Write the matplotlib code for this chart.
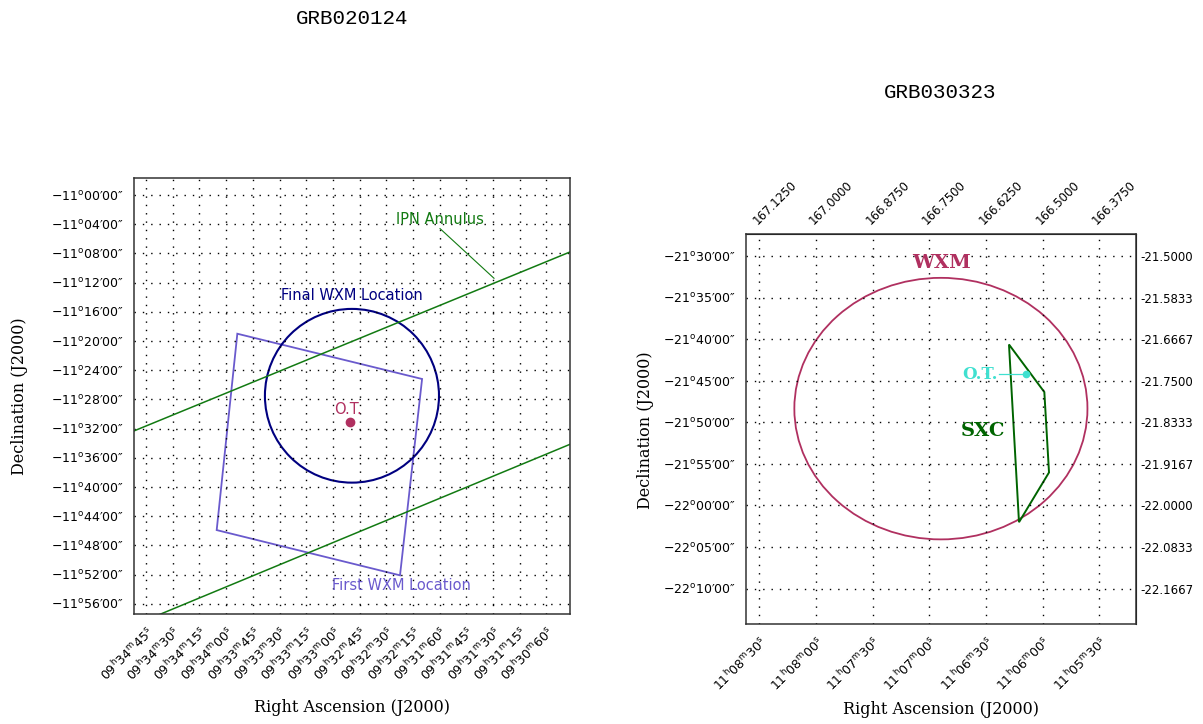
import matplotlib.pyplot as plt
from matplotlib.patches import Ellipse, Polygon

# ---------------- GRB020124 : RA in seconds of time, Dec in arcmin ----------------
ra_ticks_a = [34485, 34470, 34455, 34440, 34425, 34410, 34395, 34380,
              34365, 34350, 34335, 34320, 34305, 34290, 34275, 34260]
ra_labels_a = ["09:34:45", "09:34:30", "09:34:15", "09:34:00", "09:33:45", "09:33:30",
               "09:33:15", "09:33:00", "09:32:45", "09:32:30", "09:32:15", "09:31:60",
               "09:31:45", "09:31:30", "09:31:15", "09:30:60"]
dec_ticks_a = [-660, -664, -668, -672, -676, -680, -684, -688,
               -692, -696, -700, -704, -708, -712, -716]
dec_labels_a = ["-11:00:00", "-11:04:00", "-11:08:00", "-11:12:00", "-11:16:00",
                "-11:20:00", "-11:24:00", "-11:28:00", "-11:32:00", "-11:36:00",
                "-11:40:00", "-11:44:00", "-11:48:00", "-11:52:00", "-11:56:00"]

first_wxm_ra = [34433.7, 34329.9, 34342.3, 34445.3]
first_wxm_dec = [-679.0, -685.2, -712.1, -705.9]
final_wxm_ra, final_wxm_dec = 34369.3, -687.5
final_wxm_r_ra, final_wxm_r_dec = 48.9, 11.9
ot_a_ra, ot_a_dec = 34370.4, -691.1
ipn_upper_ra = [34491.6, 34246.8]
ipn_upper_dec = [-692.3, -667.8]
ipn_lower_ra = [34491.6, 34246.8]
ipn_lower_dec = [-718.9, -694.15]
ipn_leader_ra = [34319.8, 34289.5]
ipn_leader_dec = [-664.6, -671.4]

# ---------------- GRB030323 : RA / Dec in degrees ----------------
ra_ticks_b = [167.125, 167.0, 166.875, 166.75, 166.625, 166.5, 166.375]
ra_top_labels_b = ["167.1250", "167.0000", "166.8750", "166.7500", "166.6250", "166.5000", "166.3750"]
ra_labels_b = ["11:08:30", "11:08:00", "11:07:30", "11:07:00", "11:06:30", "11:06:00", "11:05:30"]
dec_ticks_b = [-21.5, -21.583333, -21.666667, -21.75, -21.833333,
               -21.916667, -22.0, -22.083333, -22.166667]
dec_labels_b = ["-21:30:00", "-21:35:00", "-21:40:00", "-21:45:00", "-21:50:00",
                "-21:55:00", "-22:00:00", "-22:05:00", "-22:10:00"]
dec_right_labels_b = ["-21.5000", "-21.5833", "-21.6667", "-21.7500", "-21.8333",
                      "-21.9167", "-22.0000", "-22.0833", "-22.1667"]

wxm_ra, wxm_dec = 166.7244, -21.8056
wxm_r_ra, wxm_r_dec = 0.3233, 0.2624
sxc_ra = [166.5742, 166.4962, 166.4859, 166.5521]
sxc_dec = [-21.6769, -21.7724, -21.9337, -22.0335]
ot_b_ra, ot_b_dec = 166.5375, -21.7366
ot_b_leader_ra = [166.5972, 166.5375]


def hms(s):
    h, m, sec = s.split(":")
    return h + r"$^{\rm h}$" + m + r"$^{\rm m}$" + sec + r"$^{\rm s}$"


def dms(s):
    d, m, sec = s.split(":")
    return d.replace("-", "\u2212") + r"$^{\rm o}$" + m + "\u2032" + sec + "\u2033"


MAROON = "#b03060"
GRID = dict(color="black", linestyle=(0, (1, 5)), linewidth=1.0)

fig = plt.figure(figsize=(12.03, 7.24), dpi=100)

# ---------------- left panel ----------------
ax = fig.add_axes([0.1114, 0.1519, 0.3624, 0.6022])
ax.set_xlim(34491.75, 34246.8)
ax.set_ylim(-717.4, -657.67)
ax.set_xticks(ra_ticks_a)
ax.set_xticklabels([hms(s) for s in ra_labels_a], rotation=45, ha="right",
                   rotation_mode="anchor", fontsize=9)
ax.set_yticks(dec_ticks_a)
ax.set_yticklabels([dms(s) for s in dec_labels_a], fontsize=9)
ax.tick_params(length=0, pad=7)
ax.grid(True, **GRID)
for sp in ax.spines.values():
    sp.set_linewidth(1.1)
    sp.set_color("#333333")

ax.plot(ipn_upper_ra, ipn_upper_dec, color="#127a12", lw=1.1)
ax.plot(ipn_lower_ra, ipn_lower_dec, color="#127a12", lw=1.1)
ax.plot(ipn_leader_ra, ipn_leader_dec, color="#127a12", lw=0.8)
ax.add_patch(Polygon(list(zip(first_wxm_ra, first_wxm_dec)), closed=True,
                     fill=False, edgecolor="#6a5acd", lw=1.3))
ax.add_patch(Ellipse((final_wxm_ra, final_wxm_dec), 2 * final_wxm_r_ra, 2 * final_wxm_r_dec,
                     fill=False, edgecolor="#000080", lw=1.5))
ax.plot(ot_a_ra, ot_a_dec, "o", color=MAROON, ms=6)

ax.text(34319.8, -663.4, "IPN Annulus", color="#127a12", fontsize=10.5, ha="center", va="center")
ax.text(34369.3, -673.8, "Final WXM Location", color="#000080", fontsize=10.5, ha="center", va="center")
ax.text(34341.7, -713.5, "First WXM Location", color="#6a5acd", fontsize=10.5, ha="center", va="center")
ax.text(34371.3, -689.4, "O.T.", color=MAROON, fontsize=10.5, ha="center", va="center")

fig.text(352 / 1203, 1 - 18 / 724, "GRB020124", family="Liberation Mono", fontsize=15,
         ha="center", va="center")
fig.text(20 / 1203, 1 - 396 / 724, "Declination (J2000)", family="DejaVu Serif", fontsize=11.5,
         rotation=90, ha="center", va="center")
fig.text(352 / 1203, 1 - 707 / 724, "Right Ascension (J2000)", family="DejaVu Serif",
         fontsize=11.5, ha="center", va="center")

# ---------------- right panel ----------------
bx = fig.add_axes([0.6201, 0.1377, 0.3242, 0.5391])
bx.set_xlim(167.1544, 166.294)
bx.set_ylim(-22.2384, -21.4552)
bx.set_xticks(ra_ticks_b)
bx.set_xticklabels([hms(s) for s in ra_labels_b], rotation=45, ha="right",
                   rotation_mode="anchor", fontsize=9)
bx.set_yticks(dec_ticks_b)
bx.set_yticklabels([dms(s) for s in dec_labels_b], fontsize=9)
bx.tick_params(length=0, pad=7)
bx.grid(True, **GRID)
for sp in bx.spines.values():
    sp.set_linewidth(1.1)
    sp.set_color("#333333")

top = bx.secondary_xaxis("top")
top.set_xticks(ra_ticks_b)
top.set_xticklabels(ra_top_labels_b, rotation=45, ha="left", rotation_mode="anchor", fontsize=8.5)
top.tick_params(length=0, pad=5)
right = bx.secondary_yaxis("right")
right.set_yticks(dec_ticks_b)
right.set_yticklabels(dec_right_labels_b, fontsize=8.5)
right.tick_params(length=0, pad=3)

bx.add_patch(Ellipse((wxm_ra, wxm_dec), 2 * wxm_r_ra, 2 * wxm_r_dec,
                     fill=False, edgecolor=MAROON, lw=1.3))
bx.add_patch(Polygon(list(zip(sxc_ra, sxc_dec)), closed=True,
                     fill=False, edgecolor="#006400", lw=1.4))
bx.plot(ot_b_leader_ra, [ot_b_dec, ot_b_dec], color="#40e0d0", lw=0.9)
bx.plot(ot_b_ra, ot_b_dec, "o", color="#40e0d0", ms=4.5)
bx.text(166.7241, -21.5138, "WXM", color=MAROON, family="DejaVu Serif", weight="bold",
        fontsize=14, ha="center", va="center")
bx.text(166.631, -21.8513, "SXC", color="#006400", family="DejaVu Serif", weight="bold",
        fontsize=14, ha="center", va="center")
bx.text(166.5985, ot_b_dec, "O.T.", color="#40e0d0", family="DejaVu Serif", weight="bold",
        fontsize=12, ha="right", va="center")

fig.text(940 / 1203, 1 - 92 / 724, "GRB030323", family="Liberation Mono", fontsize=15,
         ha="center", va="center")
fig.text(646 / 1203, 1 - 430 / 724, "Declination (J2000)", family="DejaVu Serif", fontsize=11.5,
         rotation=90, ha="center", va="center")
fig.text(941 / 1203, 1 - 709 / 724, "Right Ascension (J2000)", family="DejaVu Serif",
         fontsize=11.5, ha="center", va="center")

fig.savefig("out.png", dpi=100)
